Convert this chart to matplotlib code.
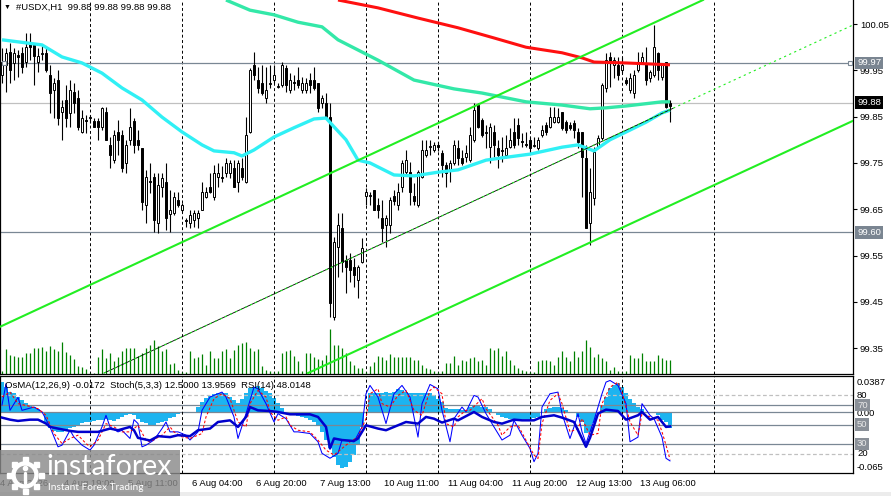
import numpy as np
import matplotlib
matplotlib.use("Agg")
import matplotlib.pyplot as plt
import matplotlib.transforms as mtransforms
from matplotlib.patches import Rectangle, Circle

plt.rcParams['font.family'] = ['Liberation Sans', 'DejaVu Sans']

# ---------------- data ----------------
opens = [99.940, 99.962, 99.990, 99.966, 99.983, 99.988, 99.968, 100.009, 100.005, 99.968,
         99.986, 99.988, 99.940, 99.908, 99.929, 99.860, 99.886, 99.858, 99.903, 99.890,
         99.817, 99.843, 99.847, 99.841, 99.841, 99.828, 99.860, 99.789, 99.756, 99.817,
         99.810, 99.750, 99.800, 99.841, 99.800, 99.782, 99.659, 99.711, 99.720, 99.620,
         99.698, 99.709, 99.640, 99.642, 99.670, 99.648, 99.627, 99.620, 99.627, 99.631,
         99.648, 99.676, 99.698, 99.676, 99.720, 99.720, 99.728, 99.728, 99.739, 99.709,
         99.739, 99.709, 99.817, 99.962, 99.929, 99.923, 99.890, 99.921, 99.929, 99.914,
         99.918, 99.955, 99.908, 99.925, 99.929, 99.908, 99.908, 99.929, 99.929, 99.923,
         99.880, 99.880, 99.849, 99.417, 99.568, 99.610, 99.540, 99.540, 99.525, 99.497,
         99.536, 99.679, 99.679, 99.692, 99.659, 99.631, 99.616, 99.616, 99.679, 99.659,
         99.698, 99.730, 99.730, 99.679, 99.659, 99.720, 99.767, 99.785, 99.778, 99.789,
         99.772, 99.746, 99.735, 99.750, 99.782, 99.761, 99.763, 99.756, 99.800, 99.875,
         99.843, 99.815, 99.784, 99.817, 99.782, 99.778, 99.767, 99.784, 99.817, 99.832,
         99.797, 99.791, 99.800, 99.787, 99.782, 99.810, 99.832, 99.828, 99.838, 99.838,
         99.860, 99.838, 99.832, 99.836, 99.817, 99.817, 99.761, 99.620, 99.674, 99.784,
         99.804, 99.912, 99.979, 99.962, 99.962, 99.951, 99.929, 99.908, 99.901, 99.951,
         99.968, 99.966, 99.934, 99.940, 99.988, 99.936, 99.968, 99.880]
highs = [99.998, 99.998, 100.009, 99.998, 99.994, 100.000, 100.030, 100.030, 100.009, 99.998,
         100.005, 99.998, 99.962, 99.934, 99.951, 99.886, 99.918, 99.929, 99.923, 99.908,
         99.864, 99.853, 99.853, 99.847, 99.847, 99.871, 99.871, 99.806, 99.821, 99.843,
         99.821, 99.800, 99.869, 99.847, 99.821, 99.782, 99.735, 99.750, 99.728, 99.728,
         99.728, 99.750, 99.692, 99.687, 99.687, 99.664, 99.631, 99.648, 99.648, 99.648,
         99.709, 99.698, 99.728, 99.746, 99.750, 99.743, 99.761, 99.756, 99.756, 99.756,
         99.761, 99.849, 99.955, 99.990, 99.957, 99.962, 99.957, 99.962, 99.962, 99.923,
         99.968, 99.962, 99.944, 99.940, 99.957, 99.936, 99.934, 99.944, 99.957, 99.923,
         99.897, 99.901, 99.880, 99.590, 99.642, 99.642, 99.551, 99.555, 99.545, 99.530,
         99.588, 99.696, 99.687, 99.692, 99.674, 99.670, 99.638, 99.676, 99.692, 99.707,
         99.756, 99.778, 99.752, 99.707, 99.735, 99.800, 99.800, 99.800, 99.795, 99.795,
         99.778, 99.752, 99.756, 99.800, 99.800, 99.778, 99.789, 99.828, 99.880, 99.880,
         99.847, 99.832, 99.836, 99.832, 99.800, 99.806, 99.810, 99.826, 99.847, 99.847,
         99.815, 99.817, 99.806, 99.806, 99.806, 99.832, 99.838, 99.871, 99.871, 99.869,
         99.860, 99.843, 99.838, 99.843, 99.826, 99.817, 99.789, 99.739, 99.784, 99.810,
         99.923, 99.988, 99.990, 99.979, 99.979, 99.979, 99.936, 99.944, 99.951, 99.990,
         99.990, 100.000, 99.951, 100.048, 99.990, 99.966, 99.968, 99.886]
lows = [99.923, 99.903, 99.923, 99.929, 99.936, 99.945, 99.957, 99.972, 99.918, 99.946,
        99.972, 99.946, 99.858, 99.847, 99.832, 99.800, 99.828, 99.828, 99.858, 99.821,
        99.815, 99.815, 99.836, 99.828, 99.800, 99.821, 99.800, 99.739, 99.750, 99.767,
        99.730, 99.728, 99.789, 99.772, 99.778, 99.648, 99.620, 99.685, 99.601, 99.599,
        99.676, 99.605, 99.601, 99.638, 99.655, 99.644, 99.612, 99.610, 99.612, 99.610,
        99.648, 99.674, 99.685, 99.670, 99.698, 99.709, 99.720, 99.718, 99.698, 99.687,
        99.713, 99.707, 99.815, 99.929, 99.901, 99.897, 99.880, 99.912, 99.923, 99.912,
        99.914, 99.903, 99.901, 99.908, 99.912, 99.901, 99.901, 99.901, 99.908, 99.860,
        99.869, 99.847, 99.417, 99.411, 99.504, 99.515, 99.469, 99.493, 99.482, 99.458,
        99.534, 99.659, 99.659, 99.648, 99.631, 99.579, 99.568, 99.599, 99.659, 99.648,
        99.687, 99.724, 99.659, 99.659, 99.655, 99.718, 99.763, 99.767, 99.774, 99.776,
        99.720, 99.698, 99.709, 99.746, 99.746, 99.746, 99.752, 99.752, 99.795, 99.826,
        99.806, 99.782, 99.750, 99.763, 99.739, 99.752, 99.761, 99.782, 99.782, 99.789,
        99.784, 99.784, 99.774, 99.784, 99.778, 99.806, 99.810, 99.826, 99.836, 99.836,
        99.821, 99.815, 99.821, 99.804, 99.782, 99.676, 99.610, 99.573, 99.659, 99.782,
        99.800, 99.903, 99.914, 99.934, 99.929, 99.944, 99.918, 99.901, 99.890, 99.946,
        99.966, 99.918, 99.925, 99.936, 99.929, 99.929, 99.869, 99.838]
closes = [99.968, 99.988, 99.951, 99.988, 99.979, 99.957, 100.000, 100.000, 99.981, 99.981,
          99.988, 99.951, 99.901, 99.923, 99.847, 99.871, 99.847, 99.908, 99.880, 99.828,
          99.847, 99.841, 99.849, 99.828, 99.828, 99.869, 99.800, 99.767, 99.810, 99.800,
          99.739, 99.789, 99.828, 99.789, 99.789, 99.666, 99.720, 99.709, 99.627, 99.702,
          99.718, 99.631, 99.648, 99.676, 99.659, 99.659, 99.625, 99.638, 99.642, 99.642,
          99.687, 99.687, 99.687, 99.728, 99.728, 99.718, 99.750, 99.750, 99.698, 99.750,
          99.720, 99.810, 99.951, 99.940, 99.912, 99.901, 99.908, 99.923, 99.940, 99.916,
          99.962, 99.918, 99.929, 99.923, 99.918, 99.923, 99.923, 99.918, 99.912, 99.869,
          99.890, 99.849, 99.448, 99.579, 99.616, 99.536, 99.525, 99.519, 99.508, 99.525,
          99.566, 99.687, 99.681, 99.648, 99.648, 99.610, 99.631, 99.670, 99.668, 99.687,
          99.750, 99.756, 99.687, 99.668, 99.730, 99.778, 99.778, 99.787, 99.789, 99.785,
          99.746, 99.728, 99.750, 99.789, 99.761, 99.750, 99.772, 99.810, 99.864, 99.828,
          99.810, 99.817, 99.828, 99.789, 99.767, 99.776, 99.782, 99.800, 99.789, 99.804,
          99.795, 99.789, 99.782, 99.789, 99.800, 99.821, 99.817, 99.849, 99.849, 99.849,
          99.826, 99.821, 99.826, 99.821, 99.795, 99.763, 99.610, 99.687, 99.774, 99.804,
          99.918, 99.972, 99.966, 99.972, 99.940, 99.962, 99.923, 99.934, 99.940, 99.968,
          99.979, 99.929, 99.946, 100.000, 99.951, 99.962, 99.871, 99.872]
volumes = [3, 25, 19, 18, 17, 17, 21, 21, 26, 26,
           27, 23, 28, 25, 23, 32, 22, 19, 15, 8,
           7, 5, 1, 1, 17, 25, 16, 21, 13, 17,
           23, 26, 26, 26, 18, 21, 26, 29, 34, 28,
           23, 25, 10, 11, 4, 2, 2, 23, 16, 17,
           20, 9, 23, 16, 16, 23, 25, 16, 24, 29,
           31, 32, 26, 23, 25, 8, 4, 3, 2, 3,
           21, 23, 24, 18, 13, 3, 21, 21, 17, 15,
           14, 19, 45, 29, 29, 26, 21, 13, 9, 6,
           6, 2, 8, 12, 18, 17, 14, 20, 17, 17,
           17, 17, 17, 14, 14, 9, 6, 5, 3, 2,
           3, 11, 11, 18, 9, 14, 13, 16, 17, 13,
           14, 9, 26, 24, 26, 18, 23, 14, 9, 6,
           4, 3, 2, 2, 13, 14, 14, 13, 9, 17,
           23, 17, 13, 23, 17, 23, 34, 27, 17, 20,
           16, 13, 4, 7, 3, 2, 3, 19, 16, 16,
           21, 13, 13, 13, 19, 16, 14, 14]

# moving averages (bar index, price)
ma_cyan_idx = [0, 10, 15, 20, 25, 30, 35, 40, 45, 50, 53, 58, 60, 63, 68, 73, 78, 81, 83, 86,
               89, 92, 98, 103, 109, 114, 121, 125, 132, 140, 144, 148, 152, 157, 161, 165, 167]
ma_cyan_val = [100.016, 100.005, 99.979, 99.966, 99.944, 99.912, 99.886, 99.849, 99.817, 99.789,
               99.776, 99.772, 99.765, 99.778, 99.806, 99.826, 99.845, 99.847, 99.828, 99.800,
               99.756, 99.750, 99.724, 99.722, 99.730, 99.735, 99.756, 99.761, 99.769, 99.784,
               99.789, 99.776, 99.800, 99.821, 99.838, 99.858, 99.864]
ma_teal_idx = [56, 62, 68, 74, 80, 84, 94, 103, 113, 120, 131, 140, 147, 151, 156, 165, 167]
ma_teal_val = [100.102, 100.080, 100.070, 100.054, 100.044, 100.016, 99.972, 99.929, 99.910,
               99.901, 99.882, 99.875, 99.867, 99.869, 99.873, 99.882, 99.882]
ma_red_idx = [84, 94, 104, 114, 123, 131, 140, 145, 148, 156, 167]
ma_red_val = [100.102, 100.085, 100.063, 100.042, 100.020, 100.000, 99.988, 99.977, 99.968,
              99.966, 99.962]

# regression channel (bar index, price)
chan_upper_idx = [-0.5, 175.25]
chan_upper_val = [99.396, 100.102]
chan_lower_idx = [76.5, 212.75]
chan_lower_val = [99.296, 99.841]
chan_mid_idx = [25.5, 167.75, 212.75]
chan_mid_val = [99.296, 99.868, 100.048]

price_levels = [99.966, 99.88, 99.60]
price_level_labels = ['99.97', '99.88', '99.60']
price_ticks = [99.35, 99.45, 99.55, 99.65, 99.75, 99.85, 99.95, 100.05]

day_idx = [22, 45, 68, 91, 109, 132, 155, 178]
time_idx = [0, 16, 32, 48, 64, 80, 96, 112, 128, 144, 160]
time_labels = ['4 Aug 2026', '4 Aug 19:00', '5 Aug 11:00', '6 Aug 04:00', '6 Aug 20:00',
               '7 Aug 13:00', '10 Aug 11:00', '11 Aug 04:00', '11 Aug 20:00',
               '12 Aug 13:00', '13 Aug 06:00']

osma = [0.0326, 0.0273, 0.0219, 0.0202, 0.0166, 0.0130, 0.0095, 0.0077, 0.0059, 0.0031,
        0.0006, -0.0119, -0.0172, -0.0197, -0.0208, -0.0208, -0.0190, -0.0172, -0.0155, -0.0137,
        -0.0119, -0.0101, -0.0101, -0.0091, -0.0083, -0.0083, -0.0076, -0.0083, -0.0094, -0.0076,
        -0.0055, -0.0030, -0.0019, -0.0030, -0.0076, -0.0101, -0.0119, -0.0137, -0.0137, -0.0119,
        -0.0101, -0.0094, -0.0066, -0.0048, -0.0019, -0.0012, -0.0012, -0.0005, 0.0006, 0.0059,
        0.0113, 0.0148, 0.0173, 0.0191, 0.0202, 0.0209, 0.0209, 0.0166, 0.0130, 0.0102,
        0.0138, 0.0202, 0.0255, 0.0273, 0.0280, 0.0255, 0.0230, 0.0202, 0.0148, 0.0095,
        0.0041, -0.0005, -0.0019, -0.0030, -0.0041, -0.0048, -0.0066, -0.0083, -0.0101, -0.0137,
        -0.0208, -0.0297, -0.0386, -0.0475, -0.0564, -0.0600, -0.0582, -0.0529, -0.0458, -0.0351,
        -0.0155, -0.0012, 0.0202, 0.0202, 0.0202, 0.0209, 0.0216, 0.0209, 0.0219, 0.0244,
        0.0237, 0.0219, 0.0209, 0.0209, 0.0202, 0.0202, 0.0202, 0.0209, 0.0184, 0.0138,
        0.0113, 0.0041, 0.0031, 0.0031, 0.0031, 0.0024, 0.0024, 0.0059, 0.0066, 0.0066,
        0.0059, 0.0059, 0.0031, 0.0006, -0.0030, -0.0048, -0.0066, -0.0076, -0.0076, -0.0076,
        -0.0076, -0.0076, -0.0076, -0.0066, -0.0048, -0.0012, 0.0031, 0.0041, 0.0052, 0.0052,
        0.0041, 0.0024, 0.0006, -0.0005, -0.0048, -0.0101, -0.0226, -0.0208, -0.0119, -0.0012,
        0.0077, 0.0166, 0.0255, 0.0291, 0.0309, 0.0266, 0.0202, 0.0138, 0.0095, 0.0059,
        0.0031, 0.0006, -0.0012, -0.0012, -0.0030, -0.0083, -0.0101, -0.0172]

stoch_idx = [0, 1, 2, 4, 5, 8, 10, 12, 14, 15, 17, 18, 20, 22, 23, 25, 26, 27, 29, 30,
             32, 33, 34, 35, 36, 38, 40, 41, 42, 44, 46, 47, 49, 50, 52, 55, 56, 58, 59, 61,
             63, 64, 66, 68, 69, 71, 73, 74, 77, 79, 80, 82, 84, 85, 88, 90, 91, 92, 94, 96,
             98, 100, 102, 104, 105, 107, 109, 110, 112, 113, 115, 116, 118, 119, 121, 123, 125, 127, 128, 130,
             132, 133, 134, 135, 137, 139, 140, 142, 143, 144, 145, 146, 148, 150, 151, 152, 154, 156, 157, 159,
             160, 162, 163, 165, 166, 167]
stoch_main = [70, 92, 64.6, 78, 64.6, 68, 63, 47.5, 27, 28.7, 44, 37, 28.7, 23.6, 28.7, 47.5, 59.5, 47.5, 42.4, 44,
              35.6, 55, 51, 27, 28.7, 34, 45.8, 52.6, 42.4, 42.4, 39, 34, 42.4, 64.6, 78.3, 83.4, 78.3, 57.8, 35.6, 61.2,
              88.5, 86.8, 71.5, 52.6, 61.2, 56, 42.4, 42.4, 40.7, 32.2, 20.3, 15.2, 20.3, 34, 32.2, 47.5, 81.7, 90.3, 78.3, 51,
              81.7, 90.3, 78.3, 37, 71.5, 91.3, 86.8, 64.6, 32.2, 56, 68, 63, 80, 78.3, 61.2, 47.5, 34, 39, 54.3, 39,
              25.3, 11.6, 20.3, 68, 81.7, 83.4, 61.2, 35.6, 47.5, 61.2, 42.4, 30.5, 54.3, 81.7, 93.7, 95.4, 90.3, 71.5, 32.2, 37,
              71.5, 59.5, 56, 37, 15.2, 12.5]
sig_idx = [0, 2, 4, 6, 9, 11, 13, 15, 17, 19, 21, 22, 24, 26, 28, 30, 32, 34, 36, 37,
           40, 42, 43, 45, 47, 50, 51, 53, 55, 57, 59, 61, 62, 64, 66, 67, 69, 71, 72, 74,
           77, 79, 81, 83, 84, 87, 89, 91, 92, 94, 95, 97, 99, 101, 103, 105, 107, 108, 110, 111,
           113, 114, 116, 117, 120, 121, 124, 125, 127, 129, 131, 133, 134, 135, 137, 139, 140, 142, 144, 145,
           147, 149, 150, 152, 154, 155, 157, 159, 160, 162, 164, 165, 166, 167]
stoch_signal = [78.3, 83.4, 71.5, 69.7, 66.3, 59.5, 40.7, 30.4, 35.6, 39, 30.4, 27, 33.8, 50.9, 47.5, 42.4, 42.4, 49.2, 33.8, 32.1,
                39, 47.5, 42.4, 37.3, 35.6, 40.7, 57.8, 76.6, 81.7, 76.6, 52.6, 47.5, 71.5, 85.1, 78.3, 62.9, 54.4, 57.8, 49.2, 44.1,
                42.4, 33.8, 23.6, 18.5, 21.9, 32.1, 37.3, 56.1, 81.7, 86.8, 71.5, 68, 80, 85.1, 64.6, 59.5, 85.1, 88.5, 81.7, 50.9,
                47.5, 57.8, 64.6, 64.6, 76.6, 66.3, 49.2, 39, 47.5, 49.2, 33.8, 18.5, 15, 50.9, 74.9, 81.7, 71.5, 42.4, 45.8, 56.1,
                39, 40.7, 71.5, 88.5, 93.7, 83.4, 52.6, 39, 61.2, 57.8, 54.4, 42.4, 28.7, 14.0]
rsi_idx = [0, 2, 4, 7, 9, 11, 12, 14, 17, 19, 22, 24, 27, 29, 32, 33, 34, 37, 39, 42,
           44, 47, 49, 52, 54, 57, 59, 61, 62, 64, 67, 69, 72, 74, 77, 79, 81, 82, 83, 85,
           88, 89, 91, 94, 96, 99, 101, 104, 106, 108, 110, 113, 114, 118, 120, 123, 125, 128, 130, 133,
           135, 138, 140, 143, 146, 147, 149, 151, 154, 156, 159, 160, 162, 164, 166, 167]
rsi_val = [57.1, 55.0, 53.7, 55.0, 55.0, 51.0, 47.5, 45.8, 43.4, 42.4, 42.4, 42.4, 45.8, 44.1, 47.5, 44.1, 36.2, 33.5, 38.0, 37.0,
           39.0, 38.0, 44.1, 45.8, 52.6, 54.3, 47.5, 57.8, 68.0, 64.6, 63.9, 62.9, 60.5, 60.5, 60.5, 57.8, 47.5, 25.3, 35.6, 34.0,
           33.0, 35.6, 49.2, 45.8, 44.1, 49.2, 52.6, 50.9, 57.8, 56.0, 52.0, 56.0, 54.3, 62.9, 57.8, 52.6, 50.9, 55.0, 54.3, 54.3,
           57.8, 59.5, 57.1, 52.6, 27.0, 36.2, 61.2, 65.3, 63.9, 55.0, 59.5, 62.9, 55.0, 57.8, 47.5, 48.0]
stoch_levels = [80, 20]
rsi_levels = [70, 50, 30]
osma_range = (-0.065, 0.0387)

title_text = '#USDX,H1  99.88 99.88 99.88 99.88'
ind_text = 'OsMA(12,26,9) -0.0172  Stoch(5,3,3) 12.5000 13.9569  RSI(14) 48.0148'

# ---------------- figure ----------------
W, H = 891, 496
FS = 6.8
fig = plt.figure(figsize=(W / 100, H / 100), dpi=100, facecolor='white')
AXW = 853 / W
ax = fig.add_axes([0, 1 - 374 / H, AXW, 374 / H])
axo = fig.add_axes([0, 1 - 473 / H, AXW, 97 / H])
axi = fig.add_axes([0, 1 - 473 / H, AXW, 97 / H])
axi.patch.set_visible(False)
XL = (-0.5, 212.75)
for a in (ax, axo, axi):
    a.set_xlim(*XL)
ax.set_ylim(99.294, 100.102)
axo.set_ylim(*osma_range)
axi.set_ylim(0, 100)

idx = np.arange(len(closes))
o = np.array(opens)
c = np.array(closes)

# grid + levels
grid_ls = (0, (3, 2.5))
for d in day_idx:
    ax.axvline(d, color='black', lw=0.7, ls=grid_ls, zorder=1)
    axi.axvline(d, color='black', lw=0.7, ls=grid_ls, zorder=1)
lvl_colors = ['#7A8794', '#C0C0C0', '#7A8794']
for lv, col in zip(price_levels, lvl_colors):
    ax.axhline(lv, color=col, lw=0.9, zorder=1.5)

# volumes
ax.vlines(idx, 0, np.array(volumes) / 374.0, transform=ax.get_xaxis_transform(),
          color='#008000', lw=0.9, zorder=2)

# candles
ax.vlines(idx, lows, highs, color='black', lw=0.8, zorder=3)
bottoms = np.minimum(o, c)
heights = np.maximum(np.abs(c - o), 0.0012)
cols = np.where(c >= o, 'white', 'black')
ax.bar(idx, heights, 0.66, bottom=bottoms, color=cols, edgecolor='black',
       linewidth=0.7, zorder=4)

# MAs
ax.plot(ma_red_idx, ma_red_val, color='#FF1010', lw=2.2, zorder=5, solid_capstyle='butt')
ax.plot(ma_teal_idx, ma_teal_val, color='#33E8A8', lw=2.4, zorder=5, solid_capstyle='butt')
ax.plot(ma_cyan_idx, ma_cyan_val, color='#30F0F5', lw=2.4, zorder=5, solid_capstyle='butt')

# channel
lime = '#22EE22'
ax.plot(chan_upper_idx, chan_upper_val, color=lime, lw=1.5, zorder=5)
ax.plot(chan_lower_idx, chan_lower_val, color=lime, lw=1.5, zorder=5)
ax.plot(chan_mid_idx[:2], chan_mid_val[:2], color='black', lw=0.6, zorder=5)
ax.plot(chan_mid_idx, chan_mid_val, color=lime, lw=0.8, ls=(0, (2, 3)), zorder=5.5)

# level end markers
ax.plot([XL[0] + 0.9, XL[1] - 0.7], [price_levels[0]] * 2, 's', ms=3.2, mfc='white',
        mec='#7A8794', mew=0.8, zorder=6, clip_on=False)

# axes styling main
ax.yaxis.tick_right()
ax.set_yticks(price_ticks)
ax.set_yticklabels([f'{t:.2f}' for t in price_ticks])
ax.tick_params(axis='y', length=3, width=0.8, pad=2, labelsize=FS, colors='black')
ax.set_xticks([])
ax.spines['top'].set_visible(False)
for s in ('left', 'right', 'bottom'):
    ax.spines[s].set_linewidth(0.9)


def rlabel(a, y, s, fc=None, tc='black', va='center', dy=0):
    tr = mtransforms.blended_transform_factory(a.transAxes, a.transData)
    bbox = dict(boxstyle='square,pad=0.2', fc=fc, ec='none') if fc else None
    a.annotate(s, xy=(1, y), xycoords=tr, xytext=(4, dy), textcoords='offset pixels',
               ha='left', va=va, fontsize=FS, color=tc, bbox=bbox,
               annotation_clip=False, zorder=10)


box_cols = ['#7A8591', 'black', '#7A8591']
for lv, lab, bc in zip(price_levels, price_level_labels, box_cols):
    rlabel(ax, lv, lab, fc=bc, tc='white')

# indicator window
axo.bar(idx, osma, 0.8, color='#1CB4F0', zorder=1)
axo.axhline(0, color='#7A8794', lw=0.9, zorder=2)
axo.axis('off')

for lv in stoch_levels:
    axi.axhline(lv, color='#C0C0C0', lw=0.9, ls=(0, (3, 2)), zorder=2)
for lv in rsi_levels:
    axi.axhline(lv, color='#7A8794', lw=0.9, zorder=2)
axi.plot(stoch_idx, stoch_main, color='#0000FF', lw=0.75, zorder=3)
axi.plot(sig_idx, stoch_signal, color='#FF0000', lw=0.75, ls=(0, (2.5, 2)), zorder=3)
axi.plot(rsi_idx, rsi_val, color='#0000CD', lw=1.8, zorder=4)
axi.set_xticks([])
axi.set_yticks([])
for s in axi.spines.values():
    s.set_linewidth(0.9)

rlabel(axo, osma_range[1], '0.0387', va='top', dy=-2)
rlabel(axo, 0, '0.00', dy=-1)
rlabel(axo, osma_range[0], '-0.065', va='bottom', dy=1)
rlabel(axi, 80, '80')
rlabel(axi, 20, '20')
for lv in rsi_levels:
    rlabel(axi, lv, str(lv), fc='#8A9098', tc='#E8E8E8')

# time labels
trx = mtransforms.blended_transform_factory(axi.transData, axi.transAxes)
for ti, tl in zip(time_idx, time_labels):
    axi.annotate(tl, xy=(ti, 0), xycoords=trx, xytext=(-2, -10), textcoords='offset pixels',
                 ha='left', va='center', fontsize=FS, color='black', annotation_clip=False)

# titles
fig.text(4 / W, 1 - 7 / H, '\u25bc', fontsize=5, va='center', ha='left', color='black')
fig.text(16 / W, 1 - 7.5 / H, title_text, fontsize=FS, va='center', ha='left', color='black')
fig.text(5 / W, 1 - 385 / H, ind_text, fontsize=FS, va='center', ha='left', color='black')

# bottom window strip
fig.patches.append(Rectangle((0, 0), 1, 4 / H, transform=fig.transFigure,
                             fc='#ECECEC', ec='none', zorder=-1))

# logo
axl = fig.add_axes([0, 0, 180 / W, 46 / H])
axl.set_xlim(0, 180)
axl.set_ylim(0, 46)
axl.axis('off')
axl.add_patch(Rectangle((0, 0), 180, 46, fc='#8A8A8A', ec='none', alpha=0.82))
axl.add_patch(Circle((25, 21), 11.5, fill=False, ec='white', lw=3.2))
ang = np.linspace(0, 2 * np.pi, 9)[:-1]
axl.plot(25 + 16 * np.cos(ang), 21 + 16 * np.sin(ang), 's', ms=3.6, color='white')
axl.plot([25, 25], [13, 23.5], color='white', lw=2.4, solid_capstyle='round')
axl.plot(25, 28, 'o', ms=3, color='white')
axl.text(46, 29, 'instaforex', fontsize=20.5, color='white', family=['Lato', 'DejaVu Sans'],
         va='center', ha='left')
axl.text(48, 8, 'Instant Forex Trading', fontsize=7.3, color='white',
         family=['Lato', 'DejaVu Sans'], va='center', ha='left')

fig.savefig('out.png', dpi=100, facecolor='white')
